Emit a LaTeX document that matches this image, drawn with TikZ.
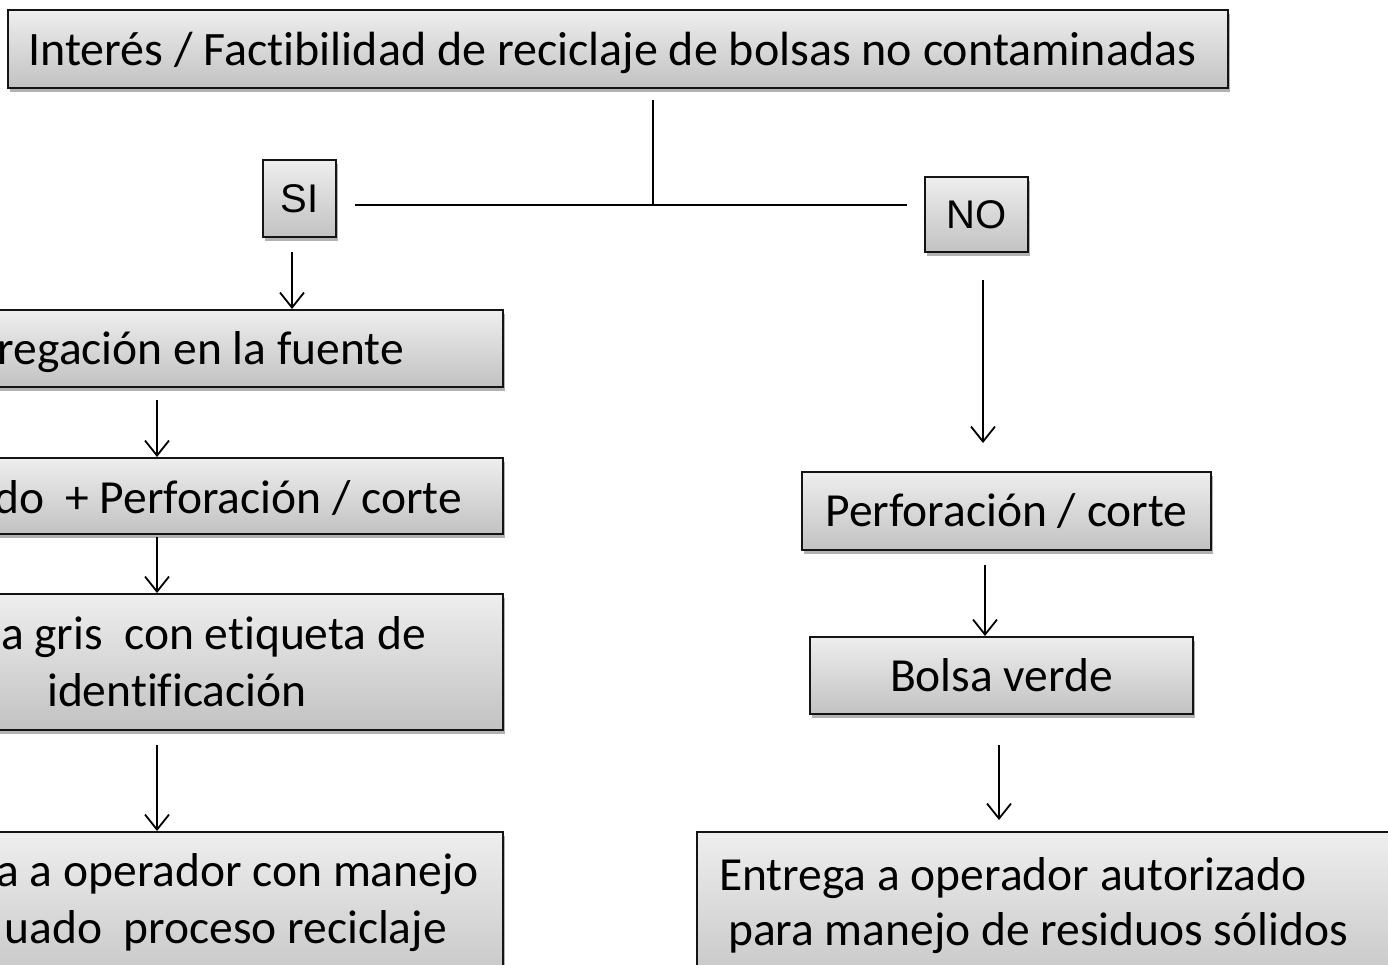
\documentclass[tikz,border=0pt]{standalone}
\usepackage{fontspec}
\setmainfont{Carlito}[RawFeature={-liga;-dlig;-clig}]
\newfontfamily\arialf{Liberation Sans}
\usetikzlibrary{arrows.meta,shadows}
\definecolor{gtop}{RGB}{238,238,238}
\definecolor{gbot}{RGB}{194,194,194}
\definecolor{edge}{RGB}{20,20,20}
\tikzset{
 box/.style={draw=edge, line width=2pt, top color=gtop, bottom color=gbot, inner sep=0pt,
   drop shadow={shadow xshift=2pt, shadow yshift=-4pt, opacity=0.3, fill=black},
   font=\fontsize{47.5}{57}\selectfont, text=black},
 sibox/.style={box, font=\arialf\fontsize{40}{48}\selectfont},
 lbl/.style={inner sep=0pt, font=\fontsize{47.5}{57}\selectfont, anchor=base east},
 lblw/.style={lbl, anchor=base west},
 arr/.style={line width=1.8pt, -{Straight Barb[length=15pt,width=24pt,line width=1.8pt]}},
 ln/.style={line width=1.8pt},
}
\begin{document}
\begin{tikzpicture}[x=1pt,y=-1pt]
\useasboundingbox (0,0) rectangle (1388,965);
\clip (0,0) rectangle (1388,965);
% top
\node[box, minimum width=1220pt, minimum height=78pt] (top) at (618,49) {};
\node[lblw, font=\fontsize{48}{57}\selectfont] (topt) at (28,66) {Interés / Factibilidad de reciclaje de bolsas no contaminadas};
\node[sibox, minimum width=73pt, minimum height=77pt] (si) at (299.5,198.5) {SI};
\node[sibox, minimum width=103pt, minimum height=75pt] (no) at (976.5,214.5) {NO};
% left column boxes
\node[box, minimum width=663pt, minimum height=77pt] (seg) at (171.5,348.5) {};
\node[box, minimum width=663pt, minimum height=76pt] (sep) at (171.5,496) {};
\node[box, minimum width=663pt, minimum height=136pt] (gris) at (171.5,662) {};
\node[box, minimum width=663pt, minimum height=168pt] (entl) at (171.5,916) {};
\node[lbl] (segt) at (404,364) {regación en la fuente};
\node[lbl] (sept) at (462,513) {do\ \ + Perforación / corte};
\node[lbl] (grist1) at (426,649) {a gris\ \ con etiqueta de};
\node[lbl] (grist2) at (307,706) {identificación};
\node[lbl] (entlt1) at (479,886) {a a operador con manejo};
\node[lbl] (entlt2) at (447,943) {uado\ \ proceso reciclaje};
% right column
\node[box, minimum width=409pt, minimum height=78pt] (perf) at (1006.5,511) {Perforación / corte};
\node[box, minimum width=383pt, minimum height=77pt] (verde) at (1001.5,675.5) {Bolsa verde};
\node[box, minimum width=723pt, minimum height=168pt] (aut) at (1058.5,916) {};
\node[lblw] (autt1) at (719,890) {Entrega a operador autorizado};
\node[lblw] (autt2) at (728,945) {para manejo de residuos sólidos};
% connectors
\coordinate (j1) at (653,100);
\coordinate (j2) at (653,205);
\coordinate (hl) at (355,205);
\coordinate (hr) at (907,205);
\draw[ln] (j1) -- (j2);
\draw[ln] (hl) -- (hr);
\coordinate (a1) at (292,252);
\coordinate (a2) at (157,400);
\coordinate (a3) at (157,537);
\coordinate (a4) at (157,745);
\coordinate (b1) at (983,280);
\coordinate (b2) at (985,565);
\coordinate (b3) at (999,745);
\coordinate (b3e) at (999,820);
\coordinate (b1e) at (983,443);
\draw[arr] (a1) -- (seg.north -| a1);
\draw[arr] (a2) -- (sep.north -| a2);
\draw[arr] (a3) -- (gris.north -| a3);
\draw[arr] (a4) -- (entl.north -| a4);
\draw[arr] (b1) -- (b1e);
\draw[arr] (b2) -- (verde.north -| b2);
\draw[arr] (b3) -- (b3e);
\end{tikzpicture}
\end{document}
